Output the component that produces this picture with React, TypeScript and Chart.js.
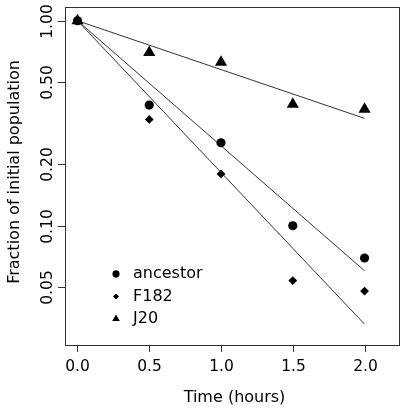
import React, { useEffect, useRef } from 'react';
import { Chart, registerables } from 'chart.js';
import { drawPoint } from 'chart.js/helpers';

Chart.register(...registerables);

// ---- data ----
const times = [0, 0.5, 1.0, 1.5, 2.0];
const ancestor = [1.0, 0.388, 0.254, 0.1, 0.0696];
const f182 = [1.0, 0.33, 0.179, 0.054, 0.048];
const j20 = [1.0, 0.701, 0.627, 0.391, 0.37];

const fitTimes = [0, 2];
const ancestorFit = [1.0, 0.0603];
const f182Fit = [1.0, 0.0331];
const j20Fit = [1.0, 0.334];

const xTicks = [0, 0.5, 1.0, 1.5, 2.0];
const xTickLabels = ['0.0', '0.5', '1.0', '1.5', '2.0'];
const yTicks = [0.05, 0.1, 0.2, 0.5, 1.0];
const yTickLabels = ['0.05', '0.10', '0.20', '0.50', '1.00'];

const seriesNames = ['ancestor', 'F182', 'J20'];
const seriesShapes = ['circle', 'rectRot', 'triangle'];
const seriesRadius = [4.6, 4.4, 7];
const legendRadius = [3.4, 2.8, 4.2];

const xTitle = 'Time (hours)';
const yTitle = 'Fraction of initial population';

const FONT = '"DejaVu Sans", "Liberation Sans", Arial, sans-serif';

const toPts = (xs: number[], ys: number[]) => xs.map((x, i) => ({ x, y: ys[i] }));

const rPlot = {
  id: 'rPlot',
  afterDraw(chart: any) {
    const { ctx, chartArea, scales } = chart;
    const xs = scales.x;
    const ys = scales.y;
    ctx.save();
    ctx.strokeStyle = '#333';
    ctx.fillStyle = '#000';
    ctx.lineWidth = 1;
    // box
    ctx.strokeRect(
      Math.round(chartArea.left) + 0.5,
      Math.round(chartArea.top) + 0.5,
      Math.round(chartArea.right - chartArea.left),
      Math.round(chartArea.bottom - chartArea.top)
    );
    ctx.font = `15.5px ${FONT}`;
    // x ticks
    ctx.textAlign = 'center';
    ctx.textBaseline = 'middle';
    xTicks.forEach((v, i) => {
      const px = Math.round(xs.getPixelForValue(v)) + 0.5;
      ctx.beginPath();
      ctx.moveTo(px, chartArea.bottom);
      ctx.lineTo(px, chartArea.bottom + 7);
      ctx.stroke();
      ctx.fillText(xTickLabels[i], px, chartArea.bottom + 22);
    });
    // y ticks
    ctx.textBaseline = 'alphabetic';
    yTicks.forEach((v, i) => {
      const py = Math.round(ys.getPixelForValue(v)) + 0.5;
      ctx.beginPath();
      ctx.moveTo(chartArea.left, py);
      ctx.lineTo(chartArea.left - 7, py);
      ctx.stroke();
      ctx.save();
      ctx.translate(52, py);
      ctx.rotate(-Math.PI / 2);
      ctx.fillText(yTickLabels[i], 0, 0);
      ctx.restore();
    });
    // titles
    ctx.font = `16px ${FONT}`;
    ctx.fillText(xTitle, 234.5, 402);
    ctx.save();
    ctx.translate(19, 172);
    ctx.rotate(-Math.PI / 2);
    ctx.fillText(yTitle, 0, 0);
    ctx.restore();
    // legend
    ctx.textAlign = 'left';
    ctx.textBaseline = 'middle';
    const lx = chartArea.left + 51;
    const ly0 = chartArea.top + 267;
    seriesNames.forEach((name, i) => {
      const y = ly0 + i * 22.5;
      ctx.fillStyle = '#000';
      drawPoint(ctx, { pointStyle: seriesShapes[i], radius: legendRadius[i], borderWidth: 0, rotation: 0 }, lx, y);
      ctx.fill();
      ctx.fillText(name, lx + 17, y);
    });
    ctx.restore();
  },
};

export default function App() {
  const ref = useRef<HTMLCanvasElement | null>(null);
  useEffect(() => {
    if (!ref.current) return;
    const pointDs = [ancestor, f182, j20].map((vals, i) => ({
      label: seriesNames[i],
      data: toPts(times, vals),
      showLine: false,
      pointStyle: seriesShapes[i],
      pointRadius: seriesRadius[i],
      pointBackgroundColor: '#000',
      pointBorderColor: '#000',
      pointBorderWidth: 0,
      order: 1,
    }));
    const lineDs = [ancestorFit, f182Fit, j20Fit].map((vals, i) => ({
      label: seriesNames[i] + ' fit',
      data: toPts(fitTimes, vals),
      showLine: true,
      pointRadius: 0,
      borderColor: '#333',
      borderWidth: 1,
      fill: false,
      order: 2,
    }));
    const chart = new Chart(ref.current, {
      type: 'scatter',
      data: { datasets: [...lineDs, ...pointDs] as any },
      options: {
        animation: false,
        responsive: false,
        layout: { padding: { left: 65, top: 7, right: 4, bottom: 65 } },
        plugins: { legend: { display: false }, tooltip: { enabled: false } },
        scales: {
          x: { type: 'linear', min: -0.087, max: 2.24, display: false },
          y: { type: 'logarithmic', min: 0.0262, max: 1.167, display: false },
        },
      },
      plugins: [rPlot],
    });
    return () => chart.destroy();
  }, []);
  return (
    <div style={{ position: 'fixed', left: 0, top: 0, width: 406, height: 410, background: '#fff' }}>
      <canvas ref={ref} width={406} height={410} />
    </div>
  );
}
